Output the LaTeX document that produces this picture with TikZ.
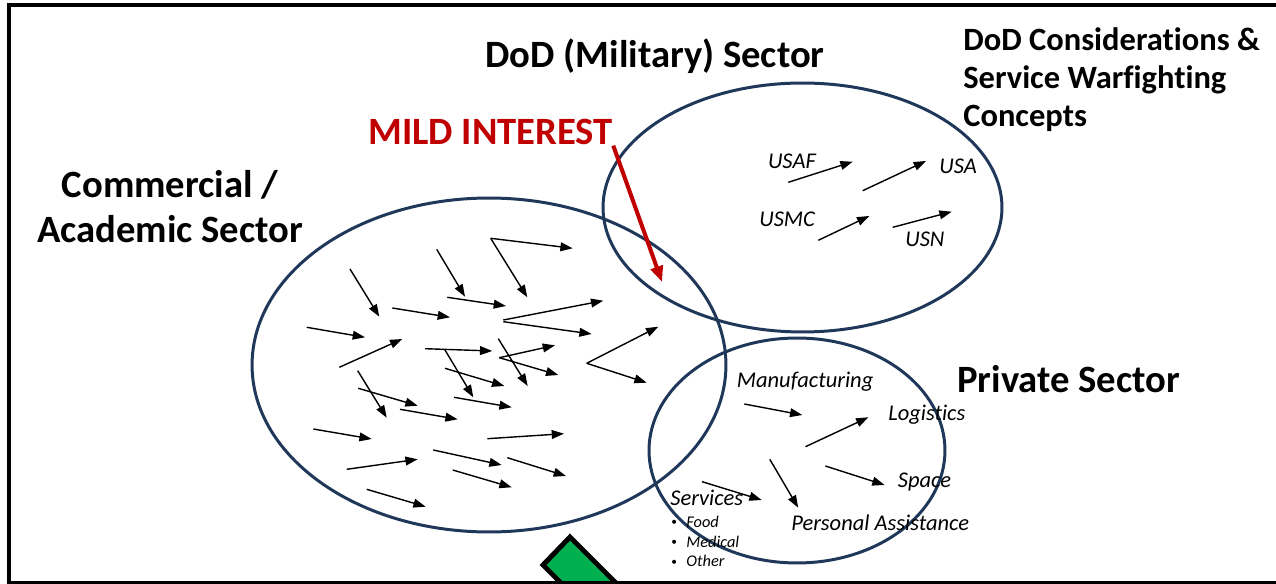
\documentclass[tikz,border=0pt]{standalone}
\usepackage{fontspec}
\setmainfont{Carlito}[Ligatures={NoCommon}]
\usepackage{xcolor}
\usetikzlibrary{arrows.meta}
\definecolor{sectorblue}{RGB}{31,56,90}
\definecolor{interestred}{RGB}{192,0,0}
\definecolor{signgreen}{RGB}{0,176,80}
\newcommand{\smallbullet}{\makebox[8.6pt][l]{\upshape\raisebox{0.9pt}{\fontsize{6.5}{8}\selectfont\textbullet}}}

\begin{document}
\begin{tikzpicture}[x=0.02cm,y=-0.02cm,
    sector/.style={draw=sectorblue,line width=1.7pt},
    flow/.style={-{Triangle[length=7pt,width=5pt]},line width=0.8pt},
    interest/.style={-{Triangle[length=9pt,width=7pt]},line width=2.3pt,draw=interestred},
    heading/.style={font=\fontsize{22}{26}\selectfont\bfseries,inner sep=0pt},
    lbl/.style={font=\fontsize{12.8}{15}\selectfont\itshape,inner sep=0pt,anchor=base west},
    sublbl/.style={font=\fontsize{9.3}{11}\selectfont\itshape,inner sep=0pt,anchor=base west}]
        \useasboundingbox (0,0) rectangle (1276,584);
        \fill[white] (0,0) rectangle (1276,584);

        % the three sectors
        \draw[sector] (489,365) ellipse [x radius=4.74cm, y radius=3.34cm];
        \draw[sector] (802.5,207.5) ellipse [x radius=3.99cm, y radius=2.49cm];
        \draw[sector] (797,450.5) ellipse [x radius=2.96cm, y radius=2.25cm];

        % headings (multi-line nodes sit on their last baseline)
        \node[heading,anchor=base] (dodtitle) at (655,68) {DoD (Military) Sector};
        \node[heading,anchor=base west,align=left,font=\fontsize{18.5}{21.8}\selectfont\bfseries] (dodnote) at (963,127) {DoD Considerations \&\\Service Warfighting\\Concepts};
        \node[heading,anchor=base,align=center] (comtitle) at (170,243) {Commercial /\\Academic Sector};
        \node[heading,anchor=base west] (privtitle) at (957,393) {Private Sector};
        \node[heading,anchor=base west,text=interestred] (mild) at (368,145) {MILD INTEREST};
        \coordinate (mildtip) at (662,282);
        \draw[interest] (mild.south east) -- (mildtip);

        % commercial / academic arrows
        \draw[flow] (350,269) -- (379.3,316.7);
        \draw[flow] (436.7,249.3) -- (465,296.7);
        \draw[flow] (490.7,238.3) -- (527.3,297.3);
        \draw[flow] (490.7,238.3) -- (572.7,248.3);
        \draw[flow] (447.3,297.3) -- (506,306);
        \draw[flow] (392.3,308) -- (450,317.3);
        \draw[flow] (306.7,327.3) -- (365,337.3);
        \draw[flow] (503.3,320) -- (603.3,300.7);
        \draw[flow] (503.3,321.7) -- (591.7,334);
        \draw[flow] (339.3,367.3) -- (402.3,339);
        \draw[flow] (425,348.7) -- (492.3,351);
        \draw[flow] (498.3,338.7) -- (527.7,386);
        \draw[flow] (499.3,357.7) -- (555,345.3);
        \draw[flow] (499.3,357.7) -- (558.3,375);
        \draw[flow] (586.7,363.3) -- (658.3,326.7);
        \draw[flow] (586.7,363.3) -- (646.7,382.7);
        \draw[flow] (445,350) -- (473.3,397.3);
        \draw[flow] (445,368.3) -- (504.3,386);
        \draw[flow] (357.7,370.7) -- (386.7,417.7);
        \draw[flow] (358.3,388.3) -- (417.7,405.7);
        \draw[flow] (400,409.3) -- (457.7,419.3);
        \draw[flow] (454,397.3) -- (511.7,407.3);
        \draw[flow] (313.3,429) -- (371.7,439);
        \draw[flow] (487.3,438.7) -- (564,433.7);
        \draw[flow] (346.7,469.3) -- (417.7,459.3);
        \draw[flow] (433.3,450) -- (501.7,465);
        \draw[flow] (507.3,457.7) -- (566,476);
        \draw[flow] (452.7,470) -- (511.7,487.3);
        \draw[flow] (366.7,489.3) -- (425.7,506.7);

        % DoD services
        \node[lbl] (usaf) at (767.7,169) {USAF};
        \node[lbl] (usa) at (939,173.3) {USA};
        \node[lbl] (usmc) at (759,226.7) {USMC};
        \node[lbl] (usn) at (905,246.7) {USN};
        \draw[flow] (788.3,182.3) -- (852.7,161.7);
        \draw[flow] (862.7,190.7) -- (926,161);
        \draw[flow] (818.3,240.3) -- (869.3,216);
        \draw[flow] (892.7,227.3) -- (951.7,211.7);

        % private sector
        \node[lbl] (manuf) at (736.5,388) {Manufacturing};
        \node[lbl] (logist) at (888,420.7) {Logistics};
        \node[lbl] (space) at (897.6,487.7) {Space};
        \node[lbl] (serv) at (670,505.7) {Services};
        \node[lbl] (persass) at (791,531) {Personal Assistance};
        \node[sublbl] (food) at (671,527.3) {\smallbullet Food};
        \node[sublbl] (medical) at (671,547.3) {\smallbullet Medical};
        \node[sublbl] (other) at (671,566.7) {\smallbullet Other};
        \draw[flow] (744.3,404) -- (802.3,415);
        \draw[flow] (805.5,446.7) -- (868.4,417.3);
        \draw[flow] (825.4,466) -- (884.6,485);
        \draw[flow] (769.8,459.3) -- (798.2,507.7);
        \draw[flow] (702.1,481.7) -- (761.7,500);

        % green sign and frame
        \filldraw[fill=signgreen,line width=2.8pt] (570,537) -- (543,565) -- (603,625) -- (630,597) -- cycle;
        \draw[line width=2.3pt] (1280,5.3) -- (9,5.3) -- (9,583) -- (1280,583);
      \end{tikzpicture}
\end{document}
